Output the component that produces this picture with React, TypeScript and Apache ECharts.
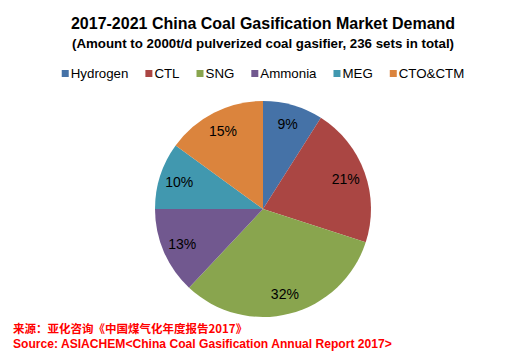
import React, { useEffect, useRef } from "react";
import * as echarts from "echarts";

const categories = ["Hydrogen", "CTL", "SNG", "Ammonia", "MEG", "CTO&CTM"];
const shares = [9, 21, 32, 13, 10, 15];
const colors = ["#4572A7", "#AA4643", "#89A54E", "#71588F", "#4198AF", "#DB843D"];
const titleText = "2017-2021 China Coal Gasification Market Demand";
const subtitleText = "(Amount to 2000t/d pulverized coal gasifier, 236 sets in total)";
const sourceCn = "来源：亚化咨询《中国煤气化年度报告2017》";
const sourceEn = "Source: ASIACHEM<China Coal Gasification Annual Report 2017>";

export default function App() {
  const ref = useRef<HTMLDivElement>(null);
  useEffect(() => {
    if (!ref.current) return;
    const chart = echarts.init(ref.current, null, { renderer: "svg" });
    const data = categories.map((name, i) => ({ name, value: shares[i], itemStyle: { color: colors[i] } }));
    const font = "Liberation Sans, Arial, sans-serif";
    chart.setOption({
      animation: false,
      backgroundColor: "#ffffff",
      title: [
        {
          text: titleText,
          left: "center",
          top: 10,
          textStyle: { fontFamily: font, fontSize: 16, fontWeight: "bold", color: "#000" },
        },
        {
          text: subtitleText,
          left: "center",
          top: 32,
          textStyle: { fontFamily: font, fontSize: 13.3, fontWeight: "bold", color: "#000" },
        },
      ],
      legend: {
        data: categories,
        top: 62,
        left: "center",
        icon: "rect",
        itemWidth: 7,
        itemHeight: 7,
        itemGap: 17,
        textStyle: { fontFamily: font, fontSize: 13.3, color: "#000", padding: [0, 0, 0, -3] },
      },
      graphic: [
        {
          type: "text",
          left: 13,
          top: 322,
          style: { text: sourceCn, fill: "#FF0000", font: "bold 11.5px 'Noto Sans CJK SC', sans-serif" },
        },
        {
          type: "text",
          left: 13,
          top: 338,
          style: { text: sourceEn, fill: "#FF0000", font: "bold 12.1px 'Liberation Sans', Arial, sans-serif" },
        },
      ],
      series: [
        {
          type: "pie",
          center: [263, 209],
          radius: [0, 108],
          startAngle: 90,
          clockwise: true,
          data,
          label: { show: false },
          labelLine: { show: false },
          itemStyle: { borderWidth: 0 },
          emphasis: { disabled: true },
        },
        {
          type: "pie",
          center: [263, 209],
          radius: [67, 103],
          startAngle: 90,
          clockwise: true,
          silent: true,
          data: categories.map((name, i) => ({ name, value: shares[i], itemStyle: { color: "rgba(0,0,0,0)" } })),
          label: {
            show: true,
            position: "inside",
            formatter: "{d}%",
            fontFamily: font,
            fontSize: 14,
            color: "#000",
          },
          labelLine: { show: false },
          itemStyle: { borderWidth: 0 },
          emphasis: { disabled: true },
        },
      ],
    });
    return () => chart.dispose();
  }, []);
  return <div ref={ref} style={{ width: 526, height: 357, position: "absolute", left: 0, top: 0 }} />;
}
